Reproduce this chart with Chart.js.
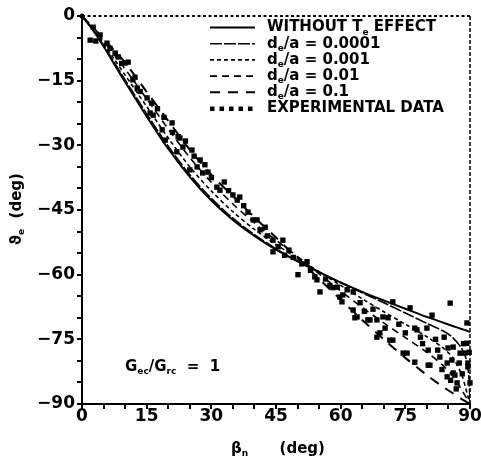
<!DOCTYPE html>
<html><head><meta charset="utf-8">
<script src="https://cdn.jsdelivr.net/npm/chart.js"></script>
<style>html,body{margin:0;padding:0;background:#fff}#wrap{width:481px;height:466px}</style>
</head><body><div id="wrap"><canvas id="c" width="481" height="466"></canvas></div>
<script>
// ---- data ----
const betaN   = [0, 2.5, 5, 7.5, 10, 15, 20, 25, 30, 35, 40, 45, 50, 55, 60, 65, 70, 75, 80, 84, 86, 88, 89, 89.5, 89.8, 90];
const noTe    = [0, -3.2, -7.0, -11.2, -15.3, -23.3, -30.8, -37.3, -42.8, -47.3, -51.0, -54.2, -56.9, -59.4, -61.8, -64.0, -66.0, -67.9, -69.8, -71.2, -71.9, -72.6, -72.9, -73.1, -73.2, -73.3];
const d0001   = [0, -3.1, -6.8, -10.8, -14.8, -22.7, -30.2, -36.8, -42.3, -46.9, -50.7, -54.0, -56.8, -59.4, -61.9, -64.2, -66.5, -68.9, -71.3, -73.2, -74.6, -77.0, -79.2, -81.6, -84.5, -90];
const d001    = [0, -3.0, -6.4, -10.0, -13.7, -21.0, -28.3, -35.0, -40.6, -45.4, -49.5, -53.0, -56.2, -59.3, -62.5, -65.6, -68.6, -71.5, -74.4, -77.2, -79.3, -83.0, -86.3, -88.2, -89.3, -90];
const d01     = [0, -2.8, -5.8, -9.0, -12.3, -19.2, -26.2, -32.8, -38.6, -43.6, -48.0, -52.0, -55.8, -59.8, -63.8, -67.6, -71.2, -74.6, -78.0, -81.3, -83.5, -86.6, -88.3, -89.1, -89.6, -90];
const d1      = [0, -2.6, -5.3, -8.0, -10.8, -17.6, -24.3, -31.0, -36.8, -41.8, -46.7, -51.4, -56.2, -61.0, -65.8, -70.5, -75.0, -79.3, -83.3, -86.2, -87.5, -88.8, -89.4, -89.7, -89.9, -90];
const expBeta  = [1.9, 2.6, 4.2, 5.8, 3.2, 7.7, 8.4, 10, 10.7, 11.8, 12.8, 12.3, 15.1, 16.2, 15.8, 16.5,
  18.6, 19.3, 20.9, 22.3, 22.7, 23.4, 22, 25.5, 25, 26.7, 27.4, 28, 29.2, 31.3, 32, 36, 36.6, 34, 39.7, 40.6,
  41.3, 44.3, 46.6, 44.3, 48, 50.1, 52.2, 54, 54.5, 55.2, 58.2, 59.2, 59.8, 60.5, 60.3, 62.9, 62.9, 63.3, 63.8,
  66.3, 66.8, 68.4, 69.8, 70.3, 69.1, 68.4, 72.1, 71.4, 72.1, 74.5, 75.4, 76.1, 77.2, 77.2, 77.7, 80, 80.3,
  80.7, 80.3, 81.2, 83, 84.7, 84.7, 84.9, 85.4, 85.8, 86.1, 86.1, 86.5, 87, 87.7, 88.8, 89.3, 89.3, 89.5, 89.5, 90,
  17.5, 19, 21, 24, 26, 28.5, 30, 33, 35, 37.5, 38.5, 42.5, 43, 45.5, 47, 49, 51, 53, 56.5, 57.5, 61.5, 64.5,
  65.5, 67.5, 71, 73.5, 75, 78.5, 79, 82, 82.5, 83.5, 85.5, 86.8, 87.5, 88.2, 89.8, 88.5, 84, 13.5, 9.2, 6.5];
const expTheta = [-5.6, -2.6, -4.4, -6.3, -5.8, -8.6, -9.5, -10.9, -10.7, -14.8, -16.7, -14.2, -19, -20.2, -22.5, -23,
  -26.4, -28.8, -24.8, -28, -28.3, -30.4, -31.5, -31.1, -35.7, -35, -33.4, -36.4, -36.2, -39.7, -40.4, -42.7, -42, -40.5, -47.3, -47.3,
  -49.6, -52, -52, -54.7, -54.3, -60, -57, -60.5, -61.2, -64, -63, -62.9, -65.2, -64.7, -66.3, -64, -68.2, -70, -69.8,
  -70.5, -70.5, -70.5, -69.8, -72.4, -73.5, -74.5, -75.2, -75.2, -66.3, -78.2, -78.2, -67.7, -80.3, -72.4, -72.8, -72.4, -77.5,
  -81, -81, -69.4, -79.1, -80.5, -83.7, -77, -66.6, -79.8, -82.8, -76.8, -83.3, -85.1, -78.2, -78.2, -71.2, -75.9, -80.5, -81.4, -85.1,
  -21.5, -23.5, -27, -29, -32.5, -34.5, -37.5, -38.5, -41.5, -44, -45.5, -49, -51, -53.5, -55.5, -56, -57.5, -59, -61, -62.5, -63.5, -66.5,
  -68.5, -68, -70, -71.5, -73.5, -74.5, -76, -75, -77.5, -82, -84.5, -86.5, -80.5, -83, -78, -76, -74.5, -17.5, -11, -7.5];
const xTickLabels = ['0', '15', '30', '45', '60', '75', '90'];
const yTickLabels = ['0', '\u221215', '\u221230', '\u221245', '\u221260', '\u221275', '\u221290'];
const seriesLabels = ['WITHOUT T_{e} EFFECT', 'd_{e}/a = 0.0001', 'd_{e}/a = 0.001', 'd_{e}/a = 0.01', 'd_{e}/a = 0.1', 'EXPERIMENTAL DATA'];
const xTitle = '\u03B2_{n}      (deg)';
const yTitle = '\u03D1_{e}  (deg)';
const noteText = 'G_{ec}/G_{rc}  =  1';

const pairs = (xs, ys) => xs.map((x, i) => ({x: x, y: ys[i]}));
const FONT = 'DejaVu Sans';

function drawRich(ctx, str, x, y, size, align) {
  const parts = [];
  const re = /_\{([^}]*)\}/g; let last = 0, m;
  while ((m = re.exec(str))) { if (m.index > last) parts.push({t: str.slice(last, m.index), s: false}); parts.push({t: m[1], s: true}); last = re.lastIndex; }
  if (last < str.length) parts.push({t: str.slice(last), s: false});
  const nf = 'bold ' + size + 'px "' + FONT + '"', sf = 'bold ' + Math.round(size * 0.62) + 'px "' + FONT + '"';
  let w = 0;
  parts.forEach(p => { ctx.font = p.s ? sf : nf; p.w = ctx.measureText(p.t).width; w += p.w; });
  let cx = align === 'center' ? x - w / 2 : x;
  ctx.textBaseline = 'middle'; ctx.textAlign = 'left'; ctx.fillStyle = '#000';
  parts.forEach(p => { ctx.font = p.s ? sf : nf; ctx.fillText(p.t, cx, p.s ? y + size * 0.32 : y); cx += p.w; });
}

const decor = {
  id: 'decor',
  afterDatasetsDraw(chart) {
    const ctx = chart.ctx, a = chart.chartArea;
    ctx.save();
    ctx.strokeStyle = '#000';
    // dotted top frame and dashed right frame
    ctx.lineWidth = 2; ctx.setLineDash([3, 2.5]);
    ctx.beginPath(); ctx.moveTo(a.left, a.top); ctx.lineTo(a.right, a.top); ctx.stroke();
    ctx.lineWidth = 1.5; ctx.setLineDash([4, 2]);
    ctx.beginPath(); ctx.moveTo(a.right, a.top); ctx.lineTo(a.right, a.bottom); ctx.stroke();
    ctx.setLineDash([]);
    ctx.fillStyle = '#000';
    ctx.beginPath(); ctx.arc(a.left, a.top, 2.5, 0, Math.PI * 2); ctx.fill();
    // legend
    const x0 = 210, x1 = 255, tx = 267, y0 = 27.5, dy = 16.2;
    chart.data.datasets.forEach((ds, i) => {
      const y = y0 + i * dy;
      if (ds.showLine === false) {
        for (let k = 0; k < 5; k++) ctx.fillRect(x0 + 2 + k * 9.5 - 2, y - 2, 4.5, 4.5);
      } else {
        ctx.lineWidth = ds.borderWidth; ctx.setLineDash(ds.borderDash || []);
        ctx.beginPath(); ctx.moveTo(x0, y); ctx.lineTo(x1, y); ctx.stroke();
        ctx.setLineDash([]);
      }
      drawRich(ctx, seriesLabels[i], tx, y, 15, 'left');
    });
    // annotation
    drawRich(ctx, noteText, 125, 367, 15, 'left');
    // axis titles
    drawRich(ctx, xTitle, (a.left + a.right) / 2 + 2, 449, 15, 'center');
    ctx.save(); ctx.translate(17, 209); ctx.rotate(-Math.PI / 2);
    drawRich(ctx, yTitle, 0, 0, 15, 'center');
    ctx.restore();
    ctx.restore();
  }
};

const tickFont = {family: FONT, size: 17, weight: 'bold'};
new Chart(document.getElementById('c'), {
  type: 'scatter',
  data: {
    datasets: [
      {label: seriesLabels[0], data: pairs(betaN, noTe), showLine: true, borderColor: '#000', borderWidth: 2, borderDash: [], pointRadius: 0, tension: 0.3},
      {label: seriesLabels[1], data: pairs(betaN, d0001), showLine: true, borderColor: '#000', borderWidth: 1.6, borderDash: [12, 2], pointRadius: 0, tension: 0.3},
      {label: seriesLabels[2], data: pairs(betaN, d001), showLine: true, borderColor: '#000', borderWidth: 1.6, borderDash: [4, 3], pointRadius: 0, tension: 0.3},
      {label: seriesLabels[3], data: pairs(betaN, d01), showLine: true, borderColor: '#000', borderWidth: 1.6, borderDash: [7, 5], pointRadius: 0, tension: 0.3},
      {label: seriesLabels[4], data: pairs(betaN, d1), showLine: true, borderColor: '#000', borderWidth: 2, borderDash: [10, 8], pointRadius: 0, tension: 0.3},
      {label: seriesLabels[5], data: pairs(expBeta, expTheta), showLine: false, pointStyle: 'rect', pointRadius: 3.8, backgroundColor: '#000', borderColor: '#000', borderWidth: 0, clip: 6}
    ]
  },
  options: {
    responsive: false, animation: false, events: [],
    layout: {padding: {top: 16, right: 11, left: 0, bottom: 0}},
    plugins: {legend: {display: false}, tooltip: {enabled: false}},
    scales: {
      x: {
        type: 'linear', min: 0, max: 90,
        afterFit: s => { s.height = 62; },
        ticks: {stepSize: 5, autoSkip: false, maxRotation: 0, color: '#000', font: tickFont, padding: -3,
          callback: v => (v % 15 === 0 ? xTickLabels[v / 15] : '')},
        grid: {drawOnChartArea: false, drawTicks: true, tickLength: 5, color: '#000', lineWidth: 2},
        border: {color: '#000', width: 2}
      },
      y: {
        type: 'linear', min: -90, max: 0,
        afterFit: s => { s.width = 82; },
        ticks: {stepSize: 5, autoSkip: false, color: '#000', font: tickFont, padding: 2,
          callback: v => (v % 15 === 0 ? yTickLabels[-v / 15] : '')},
        grid: {drawOnChartArea: false, drawTicks: true, tickLength: 5, color: '#000', lineWidth: 2},
        border: {color: '#000', width: 2}
      }
    }
  },
  plugins: [decor]
});
</script></body></html>
